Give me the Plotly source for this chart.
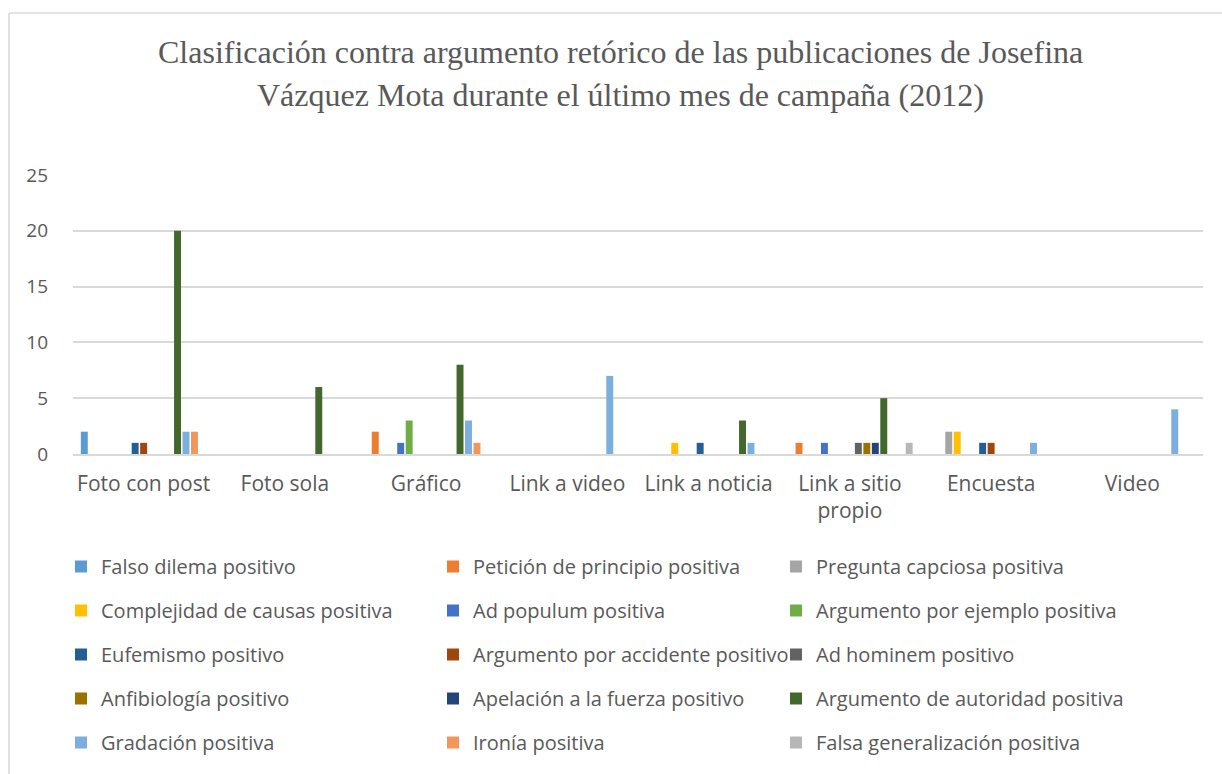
import plotly.graph_objects as go

categories = ["Foto con post", "Foto sola", "Gráfico", "Link a video", "Link a noticia",
              "Link a sitio<br>propio", "Encuesta", "Video"]

series_names = [
    "Falso dilema positivo", "Petición de principio positiva", "Pregunta capciosa positiva",
    "Complejidad de causas positiva", "Ad populum positiva", "Argumento por ejemplo positiva",
    "Eufemismo positivo", "Argumento por accidente positivo", "Ad hominem positivo",
    "Anfibiología positivo", "Apelación a la fuerza positivo", "Argumento de autoridad positiva",
    "Gradación positiva", "Ironía positiva", "Falsa generalización positiva",
]

falso_dilema          = [2, 0, 0, 0, 0, 0, 0, 0]
peticion_principio    = [0, 0, 2, 0, 0, 1, 0, 0]
pregunta_capciosa     = [0, 0, 0, 0, 0, 0, 2, 0]
complejidad_causas    = [0, 0, 0, 0, 1, 0, 2, 0]
ad_populum            = [0, 0, 1, 0, 0, 1, 0, 0]
argumento_ejemplo     = [0, 0, 3, 0, 0, 0, 0, 0]
eufemismo             = [1, 0, 0, 0, 1, 0, 1, 0]
argumento_accidente   = [1, 0, 0, 0, 0, 0, 1, 0]
ad_hominem            = [0, 0, 0, 0, 0, 1, 0, 0]
anfibiologia          = [0, 0, 0, 0, 0, 1, 0, 0]
apelacion_fuerza      = [0, 0, 0, 0, 0, 1, 0, 0]
argumento_autoridad   = [20, 6, 8, 0, 3, 5, 0, 0]
gradacion             = [2, 0, 3, 7, 1, 0, 1, 4]
ironia                = [2, 0, 1, 0, 0, 0, 0, 0]
falsa_generalizacion  = [0, 0, 0, 0, 0, 1, 0, 0]

values = [falso_dilema, peticion_principio, pregunta_capciosa, complejidad_causas, ad_populum,
          argumento_ejemplo, eufemismo, argumento_accidente, ad_hominem, anfibiologia,
          apelacion_fuerza, argumento_autoridad, gradacion, ironia, falsa_generalizacion]

colors = ["#5B9BD5", "#ED7D31", "#A5A5A5", "#FFC000", "#4472C4", "#70AD47", "#255E91",
          "#9E480E", "#636363", "#997300", "#264478", "#43682B", "#7CAFDD", "#F1975A", "#B7B7B7"]

yticks = [0, 5, 10, 15, 20, 25]

FONT = "Open Sans"
TXT = "#595959"

# pixel geometry helpers
L, R, T, B = 73, 1203, 175, 454
W, H = 1222, 774
def px(x): return (x - L) / (R - L)
def py(y): return (B - y) / (B - T)

fig = go.Figure()
legend_keys = ["legend", "legend2", "legend3"]
for i, (name, vals, col) in enumerate(zip(series_names, values, colors)):
    fig.add_trace(go.Bar(
        x=categories, y=vals, name=name, marker_color=col, marker_line_width=0,
        legend=legend_keys[i % 3], legendgroup=f"g{i}",
    ))

legend_x = [61, 433, 776]
leg_common = dict(
    orientation="v", yanchor="top", xanchor="left", font=dict(family=FONT, size=20, color=TXT),
    tracegroupgap=15, bgcolor="rgba(0,0,0,0)", itemwidth=30,
    xref="paper", yref="container",
)
layout_legends = {}
for k, lx in zip(legend_keys, legend_x):
    layout_legends[k] = dict(x=px(lx), y=1 - 547 / H, **leg_common)

fig.update_layout(
    width=W, height=H,
    margin=dict(l=L, r=W - R, t=T, b=H - B, autoexpand=False),
    paper_bgcolor="white", plot_bgcolor="white",
    barmode="group", bargap=0.1, bargroupgap=0.18,
    showlegend=True,
    font=dict(family=FONT, color=TXT),
    xaxis=dict(showgrid=False, showline=True, linecolor="#D9D9D9", linewidth=1.5, automargin=False,
               tickfont=dict(family=FONT, size=21, color=TXT), ticks="", ticklabelstandoff=10),
    yaxis=dict(range=[0, 25], tickvals=yticks, showgrid=True, gridcolor="#D9D9D9", gridwidth=1.5,
               zeroline=False, showline=False, ticks="", automargin=False,
               tickfont=dict(family=FONT, size=19, color=TXT), ticklabelstandoff=24),
    **layout_legends,
)

title_lines = ["Clasificación contra argumento retórico de las publicaciones de Josefina",
               "Vázquez Mota durante el último mes de campaña (2012)"]
for line, ty in zip(title_lines, [52, 95]):
    fig.add_annotation(text=line, x=px(620), y=py(ty), xref="paper", yref="paper",
                       showarrow=False, xanchor="center", yanchor="middle",
                       font=dict(family="Liberation Serif", size=32, color=TXT))

# outer chart border (left and top edges visible)
fig.add_shape(type="line", xref="paper", yref="paper", x0=px(9), x1=px(9), y0=py(13), y1=py(H + 5),
              line=dict(color="#D9D9D9", width=1.5))
fig.add_shape(type="line", xref="paper", yref="paper", x0=px(9), x1=px(W + 5), y0=py(13), y1=py(13),
              line=dict(color="#D9D9D9", width=1.5))

fig.write_html("out.html", config={"displayModeBar": False},
               post_script="document.body.style.margin='0';document.body.style.overflow='hidden';")
